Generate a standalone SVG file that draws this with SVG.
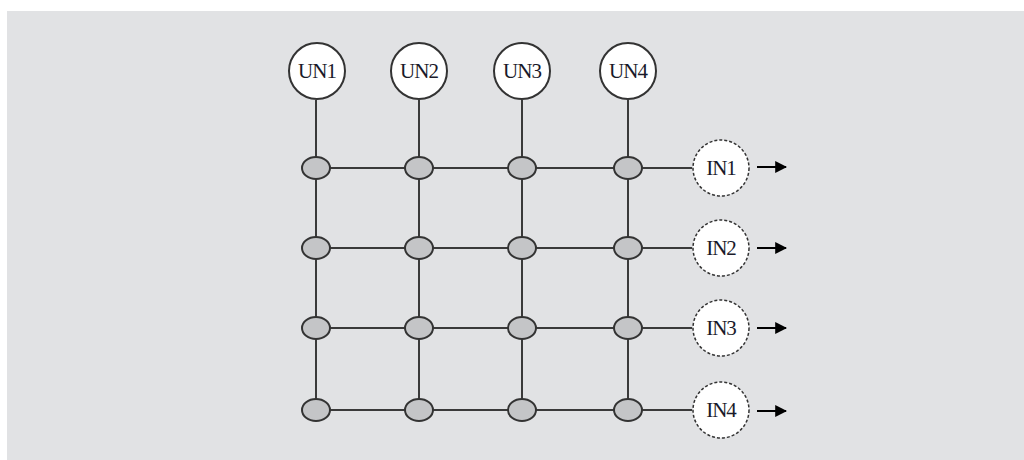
<svg xmlns="http://www.w3.org/2000/svg" width="1024" height="460" viewBox="0 0 1024 460">
<defs>
<style>
.bg{fill:#e1e2e4}
.ln{stroke:#3a3a3a;stroke-width:2;fill:none}
.un{fill:#fff;stroke:#333;stroke-width:2}
.in{fill:#fff;stroke:#333;stroke-width:1.5;stroke-dasharray:3 2}
.sw{fill:#c4c5c7;stroke:#333;stroke-width:2}
.t{font-family:"Liberation Serif","Times New Roman",serif;font-size:21px;fill:#1a1a2a;text-anchor:middle;letter-spacing:-1px}
.ar{stroke:#000;stroke-width:2}
</style>
<marker id="ah" viewBox="0 0 10 10" refX="9" refY="5" markerWidth="6" markerHeight="6" orient="auto" markerUnits="strokeWidth">
<path d="M0,0 L10,5 L0,10 z" fill="#000"/>
</marker>
</defs>
<rect x="0" y="0" width="1024" height="460" fill="#fff"/>
<rect class="bg" x="7" y="11" width="1017" height="449"/>
<g id="connectors">
<line class="ln" x1="316" y1="100" x2="316" y2="410"/>
<line class="ln" x1="419" y1="100" x2="419" y2="410"/>
<line class="ln" x1="522" y1="100" x2="522" y2="410"/>
<line class="ln" x1="628" y1="100" x2="628" y2="410"/>
<line class="ln" x1="316" y1="168" x2="692" y2="168"/>
<line class="ln" x1="316" y1="248" x2="692" y2="248"/>
<line class="ln" x1="316" y1="328" x2="692" y2="328"/>
<line class="ln" x1="316" y1="410" x2="692" y2="410"/>
<line class="ar" x1="757" y1="167" x2="786" y2="167" marker-end="url(#ah)"/>
<line class="ar" x1="757" y1="248" x2="786" y2="248" marker-end="url(#ah)"/>
<line class="ar" x1="757" y1="328" x2="786" y2="328" marker-end="url(#ah)"/>
<line class="ar" x1="757" y1="411" x2="786" y2="411" marker-end="url(#ah)"/>
</g>
<g id="UN1"><circle class="un" cx="317" cy="71" r="28"/><text class="t" x="317" y="78">UN1</text></g>
<g id="UN2"><circle class="un" cx="419" cy="71" r="28"/><text class="t" x="419" y="78">UN2</text></g>
<g id="UN3"><circle class="un" cx="522" cy="71" r="28"/><text class="t" x="522" y="78">UN3</text></g>
<g id="UN4"><circle class="un" cx="628" cy="71" r="28"/><text class="t" x="628" y="78">UN4</text></g>
<g id="switches">
<g id="S11"><ellipse class="sw" cx="316" cy="168" rx="14" ry="11"/></g>
<g id="S12"><ellipse class="sw" cx="419" cy="168" rx="14" ry="11"/></g>
<g id="S13"><ellipse class="sw" cx="522" cy="168" rx="14" ry="11"/></g>
<g id="S14"><ellipse class="sw" cx="628" cy="168" rx="14" ry="11"/></g>
<g id="S21"><ellipse class="sw" cx="316" cy="248" rx="14" ry="11"/></g>
<g id="S22"><ellipse class="sw" cx="419" cy="248" rx="14" ry="11"/></g>
<g id="S23"><ellipse class="sw" cx="522" cy="248" rx="14" ry="11"/></g>
<g id="S24"><ellipse class="sw" cx="628" cy="248" rx="14" ry="11"/></g>
<g id="S31"><ellipse class="sw" cx="316" cy="328" rx="14" ry="11"/></g>
<g id="S32"><ellipse class="sw" cx="419" cy="328" rx="14" ry="11"/></g>
<g id="S33"><ellipse class="sw" cx="522" cy="328" rx="14" ry="11"/></g>
<g id="S34"><ellipse class="sw" cx="628" cy="328" rx="14" ry="11"/></g>
<g id="S41"><ellipse class="sw" cx="316" cy="410" rx="14" ry="11"/></g>
<g id="S42"><ellipse class="sw" cx="419" cy="410" rx="14" ry="11"/></g>
<g id="S43"><ellipse class="sw" cx="522" cy="410" rx="14" ry="11"/></g>
<g id="S44"><ellipse class="sw" cx="628" cy="410" rx="14" ry="11"/></g>
</g>
<g id="IN1"><circle class="in" cx="721" cy="168" r="28"/><text class="t" x="721" y="175">IN1</text></g>
<g id="IN2"><circle class="in" cx="721" cy="248" r="28"/><text class="t" x="721" y="255">IN2</text></g>
<g id="IN3"><circle class="in" cx="721" cy="328" r="28"/><text class="t" x="721" y="335">IN3</text></g>
<g id="IN4"><circle class="in" cx="721" cy="410" r="28"/><text class="t" x="721" y="417">IN4</text></g>
</svg>
